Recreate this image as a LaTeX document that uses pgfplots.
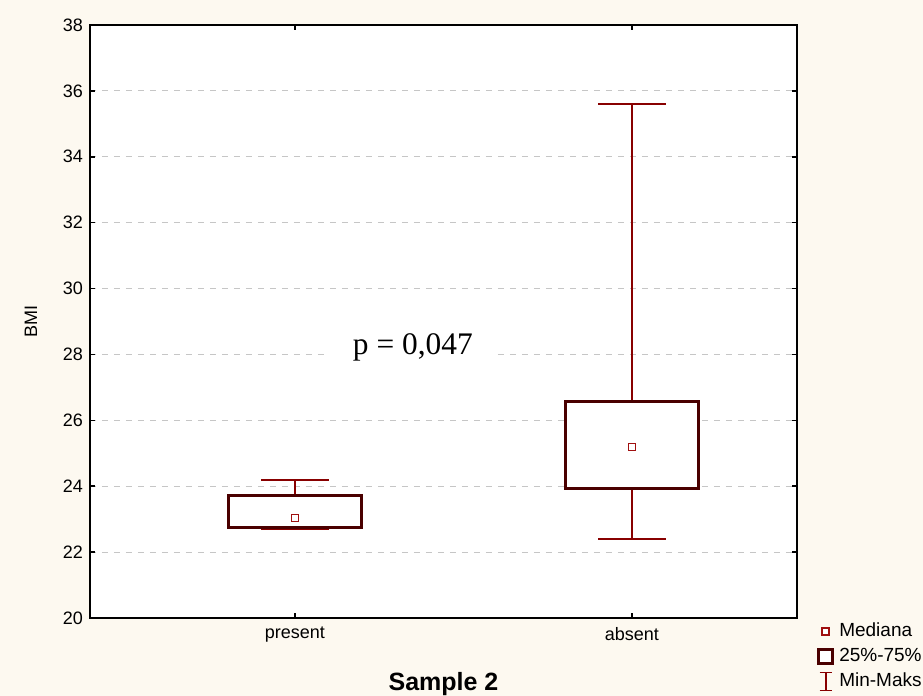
\documentclass[border=0pt]{standalone}
\usepackage{pgfplots}
\pgfplotsset{compat=1.18}
\usepackage{fontspec}
\setmainfont{Liberation Sans}
\newfontfamily\seriffont{Liberation Serif}
\definecolor{bgc}{HTML}{FDF9F0}
\definecolor{boxc}{HTML}{4A0000}
\definecolor{whc}{HTML}{880000}
\definecolor{medc}{HTML}{A01010}
\begin{document}
\begin{tikzpicture}
\fill[bgc] (-45pt,-39pt) rectangle (416.5pt,309pt);
\begin{axis}[
  scale only axis,
  width=353.5pt, height=296.5pt,
  xmin=0.392, xmax=2.49,
  ymin=20, ymax=38,
  ytick={20,22,...,38},
  xtick={1,2},
  xticklabels={present,absent},
  axis background/.style={fill=white},
  axis line style={line width=1pt, black},
  tick align=inside,
  major tick length=2.5pt,
  tick style={black, line width=0.8pt},
  ymajorgrids,
  grid style={dashed, gray!45, line width=0.4pt},
  ticklabel style={font=\fontsize{9}{11}\selectfont},
  /pgf/number format/assume math mode=true,
  xticklabel style={yshift=-1pt},
  ylabel={BMI},
  ylabel style={font=\fontsize{9}{11}\selectfont, yshift=6pt},
  xlabel={Sample 2},
  xlabel style={font=\fontsize{12.5}{14}\selectfont\bfseries, yshift=-8pt},
  legend style={at={(1.025,0.002)}, anchor=north west, draw=none, fill=none,
    font=\fontsize{9.5}{11}\selectfont, row sep=0.2pt, inner sep=1pt,
    nodes={inner xsep=2.5pt}},
  legend cell align=left,
  unbounded coords=jump,
]
\addlegendimage{legend image code/.code={\draw[medc, line width=0.6pt, fill=white] (2.2pt,-1.75pt) rectangle (5.7pt,1.75pt);}}
\addlegendentry{Mediana}
\addlegendimage{legend image code/.code={\draw[boxc, line width=1.6pt, fill=white] (0.5pt,-3.5pt) rectangle (7.5pt,3.5pt);}}
\addlegendentry{25\%-75\%}
\addlegendimage{legend image code/.code={\draw[whc, line width=0.9pt] (1pt,-4.5pt) -- (7pt,-4.5pt) (4pt,-4.5pt) -- (4pt,4.5pt) (1pt,4.5pt) -- (7pt,4.5pt);}}
\addlegendentry{Min-Maks}

% whiskers (min-max)
\addplot[forget plot, whc, line width=1pt] coordinates {
  (1,23.73) (1,24.2) (nan,nan) (0.9,24.2) (1.1,24.2) (nan,nan)
  (1,22.76) (1,22.7) (nan,nan) (0.9,22.7) (1.1,22.7)};
\addplot[forget plot, whc, line width=1pt] coordinates {
  (2,26.57) (2,35.6) (nan,nan) (1.9,35.6) (2.1,35.6) (nan,nan)
  (2,23.94) (2,22.4) (nan,nan) (1.9,22.4) (2.1,22.4)};
% boxes (25%-75%)
\addplot[forget plot, boxc, line width=1.5pt, fill=white] coordinates {
  (0.8025,22.76) (1.1975,22.76) (1.1975,23.73) (0.8025,23.73)} -- cycle;
\addplot[forget plot, boxc, line width=1.5pt, fill=white] coordinates {
  (1.8025,23.94) (2.1975,23.94) (2.1975,26.57) (1.8025,26.57)} -- cycle;
% medians
\addplot[forget plot, only marks, mark=square, mark size=1.75pt, color=medc,
  mark options={line width=0.6pt, fill=white}] coordinates {(1,23.03) (2,25.19)};
\node[fill=white, inner xsep=12pt, inner ysep=3pt, font=\seriffont\fontsize{15.7}{17}\selectfont]
  at (axis cs:1.35,28.2) {p = 0,047};
\end{axis}
\pgfresetboundingbox
\path[use as bounding box] (-45pt,-39pt) rectangle (416.5pt,309pt);
\end{tikzpicture}
\end{document}
